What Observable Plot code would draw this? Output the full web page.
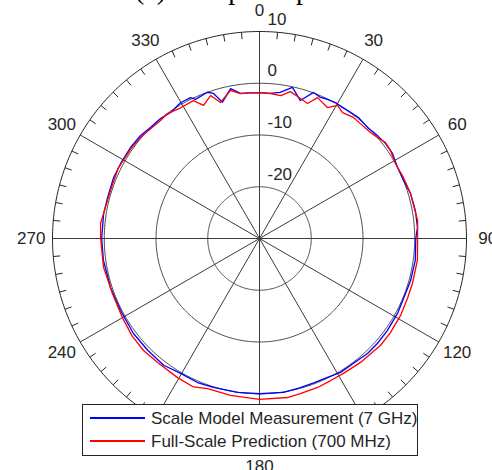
<!DOCTYPE html>
<html>
<head>
<meta charset="utf-8">
<script src="https://cdn.jsdelivr.net/npm/d3@7"></script>
<script src="https://cdn.jsdelivr.net/npm/@observablehq/plot@0.6"></script>
<style>
  body { margin: 0; background: white; }
  #wrap { position: relative; width: 492px; height: 470px; overflow: hidden; background: white; }
  #title { position: absolute; left: 135px; top: -24px; font: 28px/28px "Liberation Serif", "Times New Roman", serif; color: #000; white-space: nowrap; z-index: 3; }
  #chart { position: absolute; left: 0; top: 0; }
  #legend { position: absolute; left: 82px; top: 404px; width: 334px; height: 50px; border: 1px solid #262626; background: white; overflow: hidden; z-index: 2; }
  .lg-line { position: absolute; left: 7px; width: 55px; height: 2px; }
  .lg-text { position: absolute; left: 68px; font: 17px/17px "Liberation Sans", Arial, sans-serif; color: #262626; white-space: nowrap; }
</style>
</head>
<body>
<div id="wrap">
  <div id="title"></div>
  <div id="chart"></div>
  <div id="legend"></div>
</div>
<script>
// ---- data (angle in degrees, level in dB) ----
const titleText = "(a) Roll plane pattern";
const seriesNames = ["Scale Model Measurement (7 GHz)", "Full-Scale Prediction (700 MHz)"];
const seriesColors = ["#0000ff", "#ff0000"];

const measured = [
  [0,-1.8],[4,-1.9],[8,-1.5],[12.3,-0.1],[16.5,-2.2],[20.3,0.1],[23.4,-0.3],[26,-0.1],[29.2,0.1],
  [32,0.0],[35.8,0.05],[39.3,0.2],[44.2,-0.05],[48.9,0.25],[53,0.5],[57.4,0.5],[62.8,0.0],[68,0.0],
  [73.4,0.45],[79.8,0.6],[86,0.6],[90,0.2],[98,0.4],[105.5,0.3],[110.6,0.15],[118.5,0.35],[125.7,0.45],
  [131.7,0.5],[136.8,0.5],[143,0.2],[148.8,0.25],[153.9,-0.1],[159.4,-0.2],[165,-0.1],[171.1,0.1],
  [180,0.0],[188.1,0.05],[197.2,0.1],[203.3,0.3],[210.3,0.2],[217.1,0.7],[225,0.55],[233,0.5],
  [242.6,0.25],[251.8,0.3],[262,0.45],[270,0.5],[279.1,0.5],[285.1,0.4],[292.7,0.55],[298.4,0.5],
  [305.2,0.5],[310.9,0.4],[315.5,0.05],[320.5,0.05],[324.8,-0.2],[329.8,0.35],[333.9,0.3],[335.3,-0.4],
  [340.4,0.0],[342.4,-0.6],[344.8,-2.7],[349.1,-0.5],[352.5,-1.7],[356,-1.8]
];

const predicted = [
  [0,-1.8],[4.3,-1.9],[8.4,-2.1],[11.9,-1.0],[16.3,-1.8],[19.6,-2.3],[22.4,-0.55],[27.4,-1.5],
  [30.4,-0.2],[33.4,-0.85],[37.8,-0.4],[41.3,-0.45],[46.3,-0.35],[50,0.1],[52.7,0.6],[56.1,0.5],
  [61.1,0.0],[67,0.2],[73,0.45],[83.5,0.75],[90,0.55],[97.9,0.8],[106.4,0.8],[112,0.85],[118.6,1.05],
  [125.7,1.15],[131.5,1.2],[134.7,1.0],[140.8,0.9],[148.1,0.7],[153.4,0.7],[158.7,0.9],[165,1.0],
  [170,1.2],[180,1.1],[190.5,0.85],[199,0.7],[204,1.4],[210.5,1.2],[219.4,1.0],[226,1.15],[232.5,1.0],
  [239.8,0.6],[249.5,0.35],[259.5,0.65],[270,0.7],[275.4,0.85],[287.9,0.25],[296.7,0.5],[305,0.3],
  [310.3,0.15],[314.2,-0.1],[320,-0.25],[323.6,0.0],[328.7,-0.5],[334.4,-0.45],[337.2,-2.1],
  [341.1,-0.8],[344,-2.65],[348.9,-0.85],[352.5,-1.75],[356,-1.8]
];

const spokeAngles = [0,30,60,90,120,150,180,210,240,270,300,330];
// labels that are visible (150 and 210 lie under the legend box)
const labelAngles = [0,30,60,90,120,180,240,270,300,330];
const angleLabels = ["0","30","60","90","120","180","240","270","300","330"];
const ringLevels = [-20,-10,0];
const radialTicks = [-20,-10,0,10];
const radialLabels = ["-20","-10","0","10"];
const rMin = -30, rMax = 10;

// ---- helpers ----
const rad = a => a * Math.PI / 180;
const px = (a, db) => (db - rMin) * Math.sin(rad(a));
const py = (a, db) => (db - rMin) * Math.cos(rad(a));
const closed = arr => arr.map(([a, v]) => ({a, v})).concat([{a: arr[0][0] + 360, v: arr[0][1]}]);

const ringData = ringLevels.concat([rMax]).flatMap(v => d3.range(0, 361, 1).map(a => ({a, v, outer: v === rMax})));
const minorTicks = d3.range(0, 360, 5).filter(a => a % 30 !== 0);
const R = rMax - rMin;
const labelR = R + 4.1;

const chart = Plot.plot({
  width: 492,
  height: 470,
  marginLeft: 52, marginRight: 26, marginTop: 31, marginBottom: 25,
  x: {domain: [-R, R], axis: null},
  y: {domain: [-R, R], axis: null},
  style: {fontFamily: "'Liberation Sans', Arial, sans-serif", fontSize: "17px", color: "#262626", background: "transparent", overflow: "visible"},
  marks: [
    Plot.line(ringData.filter(d => !d.outer), {x: d => px(d.a, d.v), y: d => py(d.a, d.v), z: "v", stroke: "#4a4a4a", strokeWidth: 1}),
    Plot.link(spokeAngles, {x1: 0, y1: 0, x2: a => px(a, rMax), y2: a => py(a, rMax), stroke: "#3a3a3a", strokeWidth: 1}),
    Plot.line(ringData.filter(d => d.outer), {x: d => px(d.a, d.v), y: d => py(d.a, d.v), stroke: "#262626", strokeWidth: 1}),
    Plot.link(minorTicks, {x1: a => px(a, rMax), y1: a => py(a, rMax), x2: a => px(a, rMax - 1.35), y2: a => py(a, rMax - 1.35), stroke: "#262626", strokeWidth: 1}),
    Plot.line(closed(measured), {x: d => px(d.a, d.v), y: d => py(d.a, d.v), stroke: seriesColors[0], strokeWidth: 1.3}),
    Plot.line(closed(predicted), {x: d => px(d.a, d.v), y: d => py(d.a, d.v), stroke: seriesColors[1], strokeWidth: 1.3}),
    Plot.text(labelAngles, {x: a => px(a, rMin + labelR), y: a => py(a, rMin + labelR), text: (a, i) => angleLabels[i], textAnchor: "middle", lineAnchor: "middle", fill: "#262626"}),
    Plot.text(radialTicks, {x: 0, y: v => v - rMin + 2.4, text: (v, i) => radialLabels[i], textAnchor: "start", lineAnchor: "middle", dx: 8, fill: "#262626"})
  ]
});
document.getElementById("chart").appendChild(chart);
document.getElementById("title").textContent = titleText;

const legend = document.getElementById("legend");
const rowsY = [12, 35];
seriesNames.forEach((name, i) => {
  const line = document.createElement("div");
  line.className = "lg-line";
  line.style.top = rowsY[i] + "px";
  line.style.background = seriesColors[i];
  legend.appendChild(line);
  const t = document.createElement("div");
  t.className = "lg-text";
  t.style.top = (rowsY[i] + 1 - 8.5) + "px";
  t.textContent = name;
  legend.appendChild(t);
});
</script>
</body>
</html>
